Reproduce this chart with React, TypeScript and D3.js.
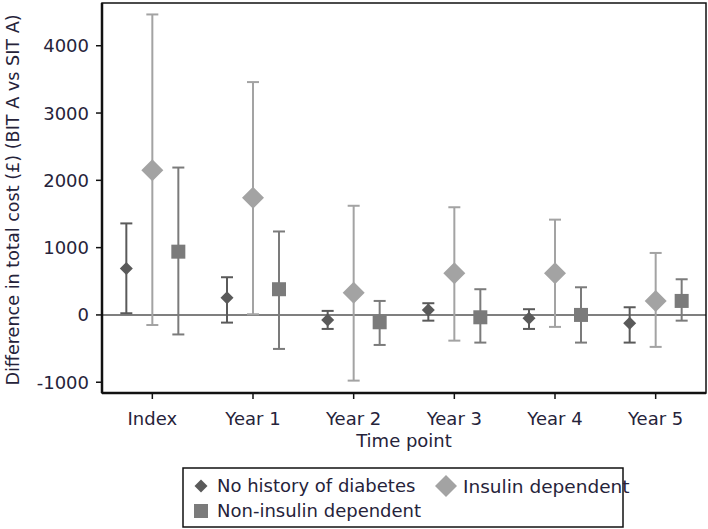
import React from "react";
import * as d3 from "d3";

const categories = ["Index", "Year 1", "Year 2", "Year 3", "Year 4", "Year 5"];
const seriesNames = ["No history of diabetes", "Insulin dependent", "Non-insulin dependent"];

const noHistMean = [690, 257, -75, 74, -50, -124];
const noHistLow = [25, -114, -208, -85, -208, -411];
const noHistHigh = [1360, 560, 60, 174, 85, 114];

const insMean = [2150, 1740, 330, 620, 620, 208];
const insLow = [-150, 10, -976, -382, -178, -475];
const insHigh = [4465, 3460, 1622, 1600, 1416, 921];

const nonInsMean = [940, 382, -109, -35, 0, 208];
const nonInsLow = [-290, -505, -446, -411, -411, -85];
const nonInsHigh = [2190, 1240, 208, 382, 411, 530];

const yTicks = [-1000, 0, 1000, 2000, 3000, 4000];

const W = 708;
const H = 529;
const left = 102;
const right = 706;
const top = 3;
const bottom = 393;

const font = "'DejaVu Sans', Verdana, sans-serif";
const textColor = "#26233a";

const colors = ["#5a5a5a", "#a3a3a3", "#7b7b7b"];

export default function App() {
  const x = d3.scaleLinear().domain([-0.5, 5.5]).range([left, right]);
  const y = d3.scaleLinear().domain([-1160, 4635]).range([bottom, top]);
  const offsets = [-26, 0, 26];
  const series = [
    { mean: noHistMean, low: noHistLow, high: noHistHigh, shape: "diamondSmall" },
    { mean: insMean, low: insLow, high: insHigh, shape: "diamondBig" },
    { mean: nonInsMean, low: nonInsLow, high: nonInsHigh, shape: "square" },
  ];

  const marker = (shape: string, cx: number, cy: number, color: string, key: string) => {
    if (shape === "square") {
      const s = 14;
      return <rect key={key} x={cx - s / 2} y={cy - s / 2} width={s} height={s} fill={color} />;
    }
    const r = shape === "diamondBig" ? 11 : 6.5;
    return (
      <path
        key={key}
        d={`M${cx},${cy - r}L${cx + r},${cy}L${cx},${cy + r}L${cx - r},${cy}Z`}
        fill={color}
      />
    );
  };

  return (
    <svg
      width={W}
      height={H}
      style={{ position: "absolute", left: 0, top: 0, background: "#fff" }}
      fontFamily={font}
    >
      <rect x={0} y={0} width={W} height={H} fill="#fff" />
      {/* zero line */}
      <line x1={left} x2={right} y1={y(0)} y2={y(0)} stroke="#555" strokeWidth={1.5} />
      {/* error bars & markers */}
      {series.map((s, si) =>
        categories.map((c, ci) => {
          const cx = x(ci) + offsets[si];
          const col = colors[si];
          return (
            <g key={`${si}-${ci}`}>
              <line x1={cx} x2={cx} y1={y(s.low[ci])} y2={y(s.high[ci])} stroke={col} strokeWidth={2} />
              <line x1={cx - 6} x2={cx + 6} y1={y(s.low[ci])} y2={y(s.low[ci])} stroke={col} strokeWidth={2} />
              <line x1={cx - 6} x2={cx + 6} y1={y(s.high[ci])} y2={y(s.high[ci])} stroke={col} strokeWidth={2} />
              {marker(s.shape, cx, y(s.mean[ci]), col, "m")}
            </g>
          );
        })
      )}
      {/* frame */}
      <rect x={left} y={top} width={right - left} height={bottom - top} fill="none" stroke="#111" strokeWidth={1.5} />
      <line x1={left} x2={left} y1={top} y2={bottom} stroke="#111" strokeWidth={2.5} />
      <line x1={left} x2={right} y1={bottom} y2={bottom} stroke="#111" strokeWidth={2.5} />
      {/* y ticks */}
      {yTicks.map((t) => (
        <g key={t}>
          <line x1={left - 6} x2={left} y1={y(t)} y2={y(t)} stroke="#111" strokeWidth={1.5} />
          <text x={left - 13} y={y(t)} dy="0.36em" textAnchor="end" fontSize={18} fill={textColor}>
            {t}
          </text>
        </g>
      ))}
      {/* x ticks */}
      {categories.map((c, i) => (
        <g key={c}>
          <line x1={x(i)} x2={x(i)} y1={bottom} y2={bottom + 6} stroke="#111" strokeWidth={1.5} />
          <text x={x(i)} y={bottom + 32} textAnchor="middle" fontSize={18} fill={textColor}>
            {c}
          </text>
        </g>
      ))}
      <text x={(left + right) / 2} y={bottom + 54} textAnchor="middle" fontSize={18} fill={textColor}>
        Time point
      </text>
      <text
        transform={`translate(19, ${(top + bottom) / 2 + 2}) rotate(-90)`}
        textAnchor="middle"
        fontSize={17.6}
        fill={textColor}
      >
        Difference in total cost (£) (BIT A vs SIT A)
      </text>
      {/* legend */}
      <rect x={183} y={468} width={440} height={59} fill="#fff" stroke="#111" strokeWidth={1.5} />
      {marker("diamondSmall", 201, 486, colors[0], "l0")}
      <text x={217} y={486} dy="0.36em" fontSize={18} fill={textColor}>{seriesNames[0]}</text>
      {marker("diamondBig", 446, 486, colors[1], "l1")}
      <text x={463} y={486} dy="0.36em" fontSize={18.5} fill={textColor}>{seriesNames[1]}</text>
      {marker("square", 201, 511, colors[2], "l2")}
      <text x={217} y={511} dy="0.36em" fontSize={18} fill={textColor}>{seriesNames[2]}</text>
    </svg>
  );
}
